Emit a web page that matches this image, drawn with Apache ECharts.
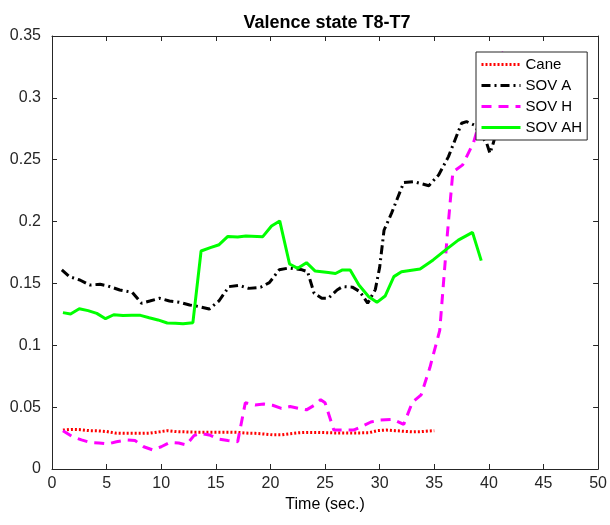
<!DOCTYPE html>
<html>
<head>
<meta charset="utf-8">
<script src="https://cdn.jsdelivr.net/npm/echarts@6/dist/echarts.min.js"></script>
<style>html,body{margin:0;padding:0;background:#fff}#c{width:610px;height:525px}</style>
</head>
<body>
<div id="c"></div>
<script>
const titleText = "Valence state T8-T7";
const xLabel = "Time (sec.)";
const seriesNames = ["Cane", "SOV A", "SOV H", "SOV AH"];

const tCane = [1.0,1.8,2.6,3.4,4.2,5.0,5.8,6.6,7.4,8.2,9.0,9.8,10.6,11.4,12.2,13.0,13.8,14.6,15.4,16.2,17.0,17.8,18.6,19.4,20.2,21.0,21.8,22.6,23.4,24.2,25.0,25.8,26.6,27.4,28.2,29.0,29.8,30.6,31.4,32.2,33.0,33.8,34.6,35.0];
const cane  = [.0315,.032,.0318,.031,.0308,.0303,.029,.0288,.0288,.0288,.029,.030,.031,.0302,.030,.0298,.0298,.0298,.0298,.0298,.0296,.029,.0288,.0283,.0276,.0276,.0285,.0293,.0296,.0296,.0294,.0292,.0292,.0292,.0292,.0293,.031,.0315,.031,.0305,.030,.0302,.0308,.031];

const tSovA = [0.9,1.6,2.55,3.45,4.4,5.1,6.2,7.35,8.2,8.95,9.85,10.75,11.65,12.6,13.5,14.4,15.3,16.2,17.1,18.0,19.1,19.9,20.8,21.7,22.9,23.4,24.0,24.7,25.3,26.1,26.6,27.5,28.2,28.9,29.6,30.0,30.4,31.1,32.2,33.1,34.5,35.4,36.3,37.5,37.95,38.65,39.8,40.1,40.4,40.9];
const sovA  = [.161,.1555,.1528,.1487,.1493,.148,.1447,.1428,.134,.1358,.138,.1358,.1348,.1326,.1312,.1293,.136,.1474,.1485,.146,.1469,.1506,.161,.1625,.161,.1595,.142,.138,.138,.1447,.1474,.147,.1433,.134,.145,.163,.193,.207,.2315,.2323,.229,.2377,.2525,.2795,.2808,.278,.2633,.2552,.2633,.28];

const tSovH = [1.0,1.9,2.7,3.5,4.3,5.1,5.9,6.8,7.6,8.4,9.2,10.0,10.8,11.6,12.3,13.0,13.6,14.4,15.2,16.1,17.0,17.7,18.6,19.4,20.2,21.0,21.8,22.6,23.3,24.1,24.6,25.0,25.8,26.6,27.6,28.4,29.2,30.0,31.2,32.2,33.0,33.8,34.6,35.5,36.2,36.7,37.6,38.6,39.4,40.2,41.0,41.5];
const sovH  = [.031,.026,.0235,.0215,.021,.0202,.022,.0235,.023,.018,.0155,.018,.0215,.021,.0195,.027,.0288,.0275,.0243,.023,.022,.0536,.0518,.0525,.0515,.049,.0505,.049,.0478,.052,.056,.0536,.0315,.0315,.0315,.0345,.038,.0395,.0402,.036,.054,.06,.082,.112,.19,.24,.2458,.264,.288,.31,.33,.341];

const tSovAH = [1.0,1.7,2.5,3.3,4.1,4.9,5.65,6.5,7.3,8.1,8.9,9.7,10.55,11.3,12.0,12.9,13.65,14.5,15.3,16.1,17.0,17.75,19.3,20.1,20.85,21.75,22.5,23.3,24.1,25.3,25.95,26.6,27.3,28.1,29.0,29.75,30.5,31.3,32.0,33.7,34.9,36.1,37.2,38.5,39.3];
const sovAH  = [.1264,.1253,.1296,.128,.1258,.1215,.1247,.124,.1243,.1242,.1223,.1205,.118,.1178,.1175,.1183,.1762,.179,.1813,.188,.1875,.1883,.1878,.1964,.2005,.1657,.1622,.1668,.16,.1588,.158,.1609,.1609,.1487,.1393,.1347,.1398,.1555,.1595,.1617,.169,.1775,.185,.1913,.1684];

function pairs(t, v) { return t.map((x, i) => [x, v[i]]); }

const axisColor = '#262626';
const font = 'Arial, "Liberation Sans", Helvetica, sans-serif';

const chart = echarts.init(document.getElementById('c'), null, {renderer: 'canvas'});
chart.setOption({
  animation: false,
  backgroundColor: '#fff',
  title: {
    text: titleText, left: 322, top: 9, textAlign: 'center',
    textStyle: {fontFamily: font, fontSize: 18, fontWeight: 'bold', color: '#000'}
  },
  grid: {left: 52, right: 9, top: 36, bottom: 56, containLabel: false},
  legend: {
    orient: 'vertical', left: 476, top: 52,
    backgroundColor: '#fff', borderColor: axisColor, borderWidth: 1,
    padding: [5, 5, 5, 4], itemGap: 6, itemWidth: 39, itemHeight: 15,
    itemStyle: {opacity: 0},
    lineStyle: {width: 3},
    textStyle: {fontFamily: font, fontSize: 15, color: '#000'},
    data: seriesNames
  },
  xAxis: [{
    type: 'value', min: 0, max: 50, interval: 5,
    name: xLabel, nameLocation: 'middle', nameGap: 20,
    nameTextStyle: {fontFamily: font, fontSize: 16, color: '#000'},
    axisLine: {onZero: false, lineStyle: {color: axisColor}},
    axisTick: {inside: true, length: 5, lineStyle: {color: axisColor}},
    axisLabel: {fontFamily: font, fontSize: 16, color: axisColor, margin: 7},
    splitLine: {show: false}
  }, {
    type: 'value', position: 'top', min: 0, max: 50, interval: 5,
    axisLine: {show: true, onZero: false, lineStyle: {color: axisColor}},
    axisTick: {inside: true, length: 5, lineStyle: {color: axisColor}},
    axisLabel: {show: false}, splitLine: {show: false}
  }],
  yAxis: [{
    type: 'value', min: 0, max: 0.35, interval: 0.05,
    axisLine: {show: true, onZero: false, lineStyle: {color: axisColor}},
    axisTick: {show: true, inside: true, length: 5, lineStyle: {color: axisColor}},
    axisLabel: {fontFamily: font, fontSize: 16, color: axisColor, margin: 11,
      formatter: v => (Math.round(v * 100) / 100).toString()},
    splitLine: {show: false}
  }, {
    type: 'value', position: 'right', min: 0, max: 0.35, interval: 0.05,
    axisLine: {show: true, onZero: false, lineStyle: {color: axisColor}},
    axisTick: {show: true, inside: true, length: 5, lineStyle: {color: axisColor}},
    axisLabel: {show: false}, splitLine: {show: false}
  }],
  series: [
    {name: seriesNames[0], type: 'line', data: pairs(tCane, cane), symbol: 'none', z: 3,
     lineStyle: {color: '#ff0000', width: 3, type: [2, 2], cap: 'butt'}, itemStyle: {color: '#ff0000'}},
    {name: seriesNames[1], type: 'line', data: pairs(tSovA, sovA), symbol: 'none', z: 3,
     lineStyle: {color: '#000000', width: 3, type: [9, 4, 2, 4], cap: 'butt'}, itemStyle: {color: '#000000'}},
    {name: seriesNames[2], type: 'line', data: pairs(tSovH, sovH), symbol: 'none', z: 3,
     lineStyle: {color: '#ff00ff', width: 3, type: [10, 7], cap: 'butt'}, itemStyle: {color: '#ff00ff'}},
    {name: seriesNames[3], type: 'line', data: pairs(tSovAH, sovAH), symbol: 'none', z: 3,
     lineStyle: {color: '#00ff00', width: 3, type: 'solid'}, itemStyle: {color: '#00ff00'}}
  ]
});
</script>
</body>
</html>
